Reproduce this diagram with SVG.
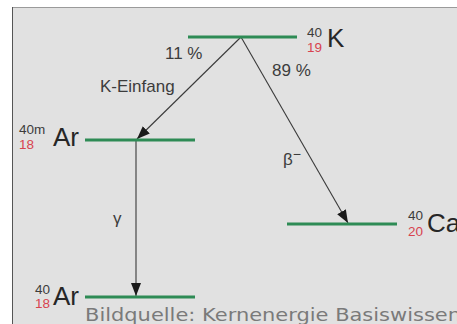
<svg xmlns="http://www.w3.org/2000/svg" width="457" height="324" viewBox="0 0 457 324">
<style>
.lvl{stroke:#2e8b55;stroke-width:3.2;fill:none}
.con{stroke:#3a3a3a;stroke-width:1.1;fill:none;marker-end:url(#ah)}
.t{font-family:"Liberation Sans",Arial,sans-serif;fill:#3c3c3c}
.big{font-size:26px;fill:#262626}
.sup{font-size:13.5px;fill:#3c3c3c}
.sub{font-size:13.5px;fill:#d8434f}
.lab{font-size:17px}
.src{font-family:"DejaVu Sans",sans-serif;font-size:18px;fill:#7a7a7a}
</style>
<defs>
<marker id="ah" markerUnits="userSpaceOnUse" markerWidth="14" markerHeight="12" viewBox="0 0 14 12" refX="13" refY="6" orient="auto">
<path d="M0,1 L13,6 L0,11 Z" fill="#1a1a1a"/>
</marker>
</defs>
<rect x="0" y="0" width="457" height="324" fill="#ffffff"/>
<rect x="12" y="7" width="445" height="317" fill="#e1e1e1"/>
<line x1="12" y1="7.5" x2="457" y2="7.5" stroke="#9a9a9a" stroke-width="1"/>
<line x1="12.5" y1="7" x2="12.5" y2="324" stroke="#555555" stroke-width="1"/>

<g id="connectors">
<line class="con" x1="241" y1="37" x2="137" y2="139"/>
<line class="con" x1="241" y1="37" x2="348" y2="223"/>
<line class="con" x1="136" y1="140" x2="136" y2="296"/>
<text class="t lab" x="165" y="59">11 %</text>
<text class="t lab" x="272" y="76">89 %</text>
<text class="t lab" x="100" y="92">K-Einfang</text>
<text class="t lab" x="113" y="224">γ</text>
<text class="t lab" x="283" y="165">β<tspan font-size="14" dy="-6">−</tspan></text>
</g>

<g id="K40">
<line class="lvl" x1="188" y1="37" x2="297" y2="37"/>
<text class="t sup" x="322" y="37" text-anchor="end">40</text>
<text class="t sub" x="322" y="52" text-anchor="end">19</text>
<text class="t big" x="327" y="47">K</text>
</g>

<g id="Ar40m">
<line class="lvl" x1="85" y1="140" x2="195" y2="140"/>
<text class="t sup" x="19" y="134">40m</text>
<text class="t sub" x="19" y="149">18</text>
<text class="t big" x="53" y="146">Ar</text>
</g>

<g id="Ca40">
<line class="lvl" x1="287" y1="224" x2="397" y2="224"/>
<text class="t sup" x="423" y="220" text-anchor="end">40</text>
<text class="t sub" x="423" y="236" text-anchor="end">20</text>
<text class="t big" x="427" y="232">Ca</text>
</g>

<g id="Ar40">
<line class="lvl" x1="85" y1="297" x2="195" y2="297"/>
<text class="t sup" x="50" y="294" text-anchor="end">40</text>
<text class="t sub" x="50" y="308" text-anchor="end">18</text>
<text class="t big" x="53" y="305">Ar</text>
</g>

<text class="src" x="85" y="321" textLength="376" lengthAdjust="spacingAndGlyphs">Bildquelle: Kernenergie Basiswissen</text>
</svg>
